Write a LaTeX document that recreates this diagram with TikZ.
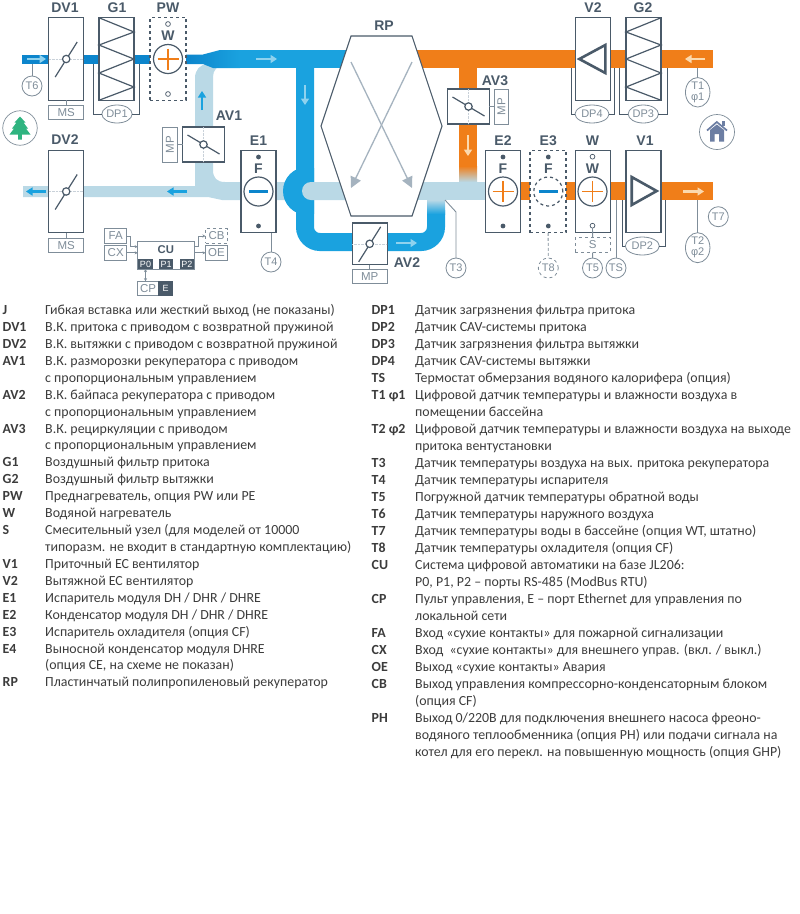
\documentclass[tikz,border=0pt]{standalone}
\usepackage{fontspec}
\setmainfont{Carlito}
\newfontfamily\schemefont{Liberation Sans}
\usetikzlibrary{arrows.meta, positioning, shapes.geometric, calc}
\definecolor{ductblue}{HTML}{1AA2DF}
\definecolor{ductdeep}{HTML}{0C85CC}
\definecolor{ductpale}{HTML}{BAD9E6}
\definecolor{ductorange}{HTML}{F07E19}
\definecolor{flowpale}{HTML}{8FD2EE}
\definecolor{floworange}{HTML}{FBD9AE}
\definecolor{unitdark}{HTML}{4A5A69}
\definecolor{unitgray}{HTML}{7F8D99}
\definecolor{crossgray}{HTML}{A5B3BF}
\definecolor{treegreen}{HTML}{2FB480}
\definecolor{housegray}{HTML}{6C7EA3}
\definecolor{legendink}{HTML}{3C3C3C}
\newcommand{\leftrow}[3]{
  \node[legkey] (lk#1) at (2.5,{314.6+16.92*#1}) {#2};
  \node[legtext] (lt#1) at (45,{314.6+16.92*#1}) {#3};
}
\newcommand{\leftmore}[2]{
  \node[legtext] (lt#1) at (45,{314.6+16.92*#1}) {#2};
}
\newcommand{\rightrow}[3]{
  \node[legkey] (rk#1) at (371.5,{314.6+17.0*#1}) {#2};
  \node[legtext] (rt#1) at (415,{314.6+17.0*#1}) {#3};
}
\newcommand{\rightmore}[2]{
  \node[legtext] (rt#1) at (415,{314.6+17.0*#1}) {#2};
}
\begin{document}
\begin{tikzpicture}[
    x=1pt, y=-1pt, >=Stealth,
    unitbox/.style={draw=unitdark, fill=white, line width=1.2pt, inner sep=0pt, outer sep=0pt, minimum width=35pt, minimum height=#1},
    unitbox/.default=82.5pt,
    dashbox/.style={unitbox=#1, dashed},
    dashbox/.default=83pt,
    smallbox/.style={draw=unitgray, fill=white, line width=0.8pt, inner sep=0pt, outer sep=0pt, minimum width=#1, minimum height=14.5pt, font=\schemefont\fontsize{11.5}{11.5}\selectfont, text=unitgray},
    smallbox/.default=35pt,
    unitlabel/.style={font=\schemefont\bfseries\fontsize{14}{14}\selectfont, text=unitdark, inner sep=0pt},
    coilmark/.style={font=\schemefont\bfseries\fontsize{14}{14}\selectfont, text=unitdark, inner sep=0pt},
    coil/.style={circle, draw=unitdark, fill=white, line width=1.2pt, minimum size=29pt, inner sep=0pt, outer sep=0pt},
    sensor/.style={circle, draw=unitgray, fill=white, line width=0.8pt, minimum size=20pt, inner sep=0pt, outer sep=0pt, font=\schemefont\fontsize{11}{11}\selectfont, text=unitgray},
    sensoval/.style={ellipse, draw=unitgray, fill=white, line width=0.8pt, minimum width=#1, minimum height=18pt, inner sep=0pt, outer sep=0pt, font=\schemefont\fontsize{11}{11}\selectfont, text=unitgray},
    sensoval/.default=30pt,
    humid/.style={ellipse, draw=unitgray, fill=white, line width=0.8pt, minimum width=24.5pt, minimum height=27pt, inner sep=0pt, outer sep=0pt, align=center, font=\schemefont\fontsize{11}{11}\selectfont, text=unitgray},
    ctrlbox/.style={draw=unitgray, fill=white, line width=0.9pt, inner sep=0pt, outer sep=0pt, minimum width=22pt, minimum height=14.5pt, font=\schemefont\fontsize{11.5}{11.5}\selectfont, text=unitgray},
    port/.style={fill=unitdark, text=white, inner sep=0pt, outer sep=0pt, minimum height=10pt, font=\schemefont\fontsize{9}{9}\selectfont},
    wire/.style={draw=unitgray, line width=0.9pt},
    ductwire/.style={draw=unitdark, line width=1pt},
    ctrlwire/.style={draw=unitgray, line width=0.7pt, -{Stealth[length=3pt,width=3pt]}},
    faint/.style={draw=crossgray!60, line width=0.4pt, densely dotted},
    flow/.style={-{Triangle[length=6.5pt,width=8pt]}, line width=2.8pt},
    legkey/.style={anchor=base west, inner sep=0pt, text=legendink, font=\bfseries\fontsize{13.9}{13.9}\selectfont},
    legtext/.style={anchor=base west, inner sep=0pt, text=legendink, font=\fontsize{13.9}{13.9}\selectfont},
    bladeup/.pic={\draw[unitdark, line width=1.2pt] (-11,18) -- (11,-17); \draw[unitdark, line width=1.2pt, fill=white] (0,0) circle (3.7pt);},
    bladedown/.pic={\draw[unitdark, line width=1.2pt] (-16,-9.5) -- (16,9.5); \draw[unitdark, line width=1.2pt, fill=white] (0,0) circle (3.7pt);},
    plusmark/.pic={\draw[ductorange, line width=1.5pt] (-10.5,0) -- (10.5,0) (0,-10.5) -- (0,10.5);},
    minusmark/.pic={\draw[ductdeep, line width=2.4pt] (-9.5,0) -- (9.5,0);}
  ]
  \useasboundingbox (0,0) rectangle (800,914);

  \fill[ductpale] (23,186) -- (195,186) .. controls (195,186) and (195,182) .. (195,178) -- (195,78)
    .. controls (195,70) and (200,64) .. (208,64) -- (225,64) .. controls (217,66) and (213,70) .. (213,77)
    -- (213,170) .. controls (213,178) and (217,182) .. (225,182) -- (300,182) -- (300,200) -- (222,200)
    -- (208,197) -- (23,197) -- cycle;

  \fill[ductdeep] (22,54.5) rectangle (186,64);
  \shade[left color=ductdeep, right color=ductblue] (186,54.5) -- (203,54.5) -- (220,50) -- (240,50) -- (240,68) -- (213,68) -- (203,64) -- (186,64) -- cycle;
  \fill[ductblue] (240,50) rectangle (350,68);
  \draw[ductblue, line width=18pt, rounded corners=15pt] (305,60) -- (305,242) -- (436,242) -- (436,210);
  \begin{scope}
    \clip (270,150) rectangle (314,230);
    \fill[ductblue] (307,191) circle (24pt);
  \end{scope}
  \shade[top color=ductpale, bottom color=ductblue] (427,200) rectangle (445,214);
  \fill[ductpale, rounded corners=9pt] (302,182) rectangle (400,200);
  \fill[ductpale] (380,182) rectangle (490,200);

  \fill[ductorange] (410,50) rectangle (713,68);
  \fill[ductorange] (459,68) rectangle (477,166);
  \shade[top color=ductorange, bottom color=ductpale] (459,166) rectangle (477,182);
  \fill[ductorange] (515,182) rectangle (713,200);

  \filldraw[draw=unitdark, fill=white, line width=1.1pt] (351,36) -- (412,36) -- (442,126) -- (412,216) -- (351,216) -- (321,126) -- cycle;
  \draw[crossgray, line width=1.3pt, -{Triangle[length=11pt,width=11pt]}] (351,62) -- (412,188);
  \draw[crossgray, line width=1.3pt, -{Triangle[length=11pt,width=11pt]}] (412,62) -- (351,188);
  \node[unitlabel] (rplab) at (384,26) {RP};

  \draw[flow, flowpale] (27,59) -- (46,59);
  \draw[flow, flowpale] (256,59) -- (277,59);
  \draw[flow, flowpale] (305,85) -- (305,105);
  \draw[flow, flowpale] (396,243) -- (417,243);
  \draw[flow, ductblue] (202,110) -- (202,91);
  \draw[flow, ductblue] (187,191.5) -- (167,191.5);
  \draw[flow, ductblue] (46,191.5) -- (26,191.5);
  \draw[flow, floworange] (468,135) -- (468,156);
  \draw[flow, floworange] (705,59) -- (685,59);
  \draw[flow, floworange] (683,191.5) -- (704,191.5);

  \node[unitbox] (dva) at (66.2,59) {};
  \node[unitlabel] (dvalab) at (65,8) {DV1};
  \draw[faint] (dva.west) -- (dva.east);
  \pic at (dva) {bladeup};
  \node[smallbox] (msa) at (66.2,112.5) {MS};
  \draw[wire] (dva) -- (msa);
  \node[sensor] (tsix) at (32,86) {T6};
  \coordinate (tsixtap) at (32,64);
  \draw[wire] (tsixtap) -- (tsix);

  \node[unitbox] (ga) at (116.5,59) {};
  \node[unitlabel] (galab) at (117,8) {G1};
  \draw[unitdark, line width=1.2pt] (ga.north west) -- (134,32) -- (99,45) -- (134,59) -- (99,73) -- (134,87) -- (ga.south west);
  \node[sensoval] (dpa) at (117,114) {DP1};
  \coordinate (dpal) at (93,64);
  \coordinate (dpar) at (139,64);
  \draw[ductwire] (dpa.west) -| (dpal);
  \draw[ductwire] (dpa.east) -| (dpar);

  \node[dashbox=82.5pt, minimum width=36pt] (pw) at (168,59) {};
  \node[unitlabel] (pwlab) at (168,8) {PW};
  \node[coilmark] (pwmark) at (168,36) {W};
  \node[coil] (pwcoil) at (168,59) {};
  \pic at (pwcoil) {plusmark};
  \draw[unitdark, line width=0.7pt, fill=white] (168,24) circle (2.4pt) (168,94) circle (2.4pt);

  \node[unitbox=35pt, minimum width=41.5pt] (ava) at (203.5,144.5) {};
  \node[unitlabel] (avalab) at (229,116) {AV1};
  \draw[faint] (ava.north) -- (ava.south);
  \pic at (ava) {bladedown};
  \node[smallbox, rotate=90, minimum width=35pt] (mpa) at (170,144.5) {MP};
  \draw[wire] (mpa) -- (ava);

  \node[unitbox] (dvb) at (66.2,191.5) {};
  \node[unitlabel] (dvblab) at (65,140) {DV2};
  \draw[faint] (dvb.west) -- (dvb.east);
  \pic at (dvb) {bladeup};
  \node[smallbox] (msb) at (66.2,245.5) {MS};
  \draw[wire] (dvb) -- (msb);

  \node[circle, draw=unitgray, line width=0.7pt, minimum size=34.5pt, inner sep=0pt] (forest) at (20,128) {};
  \fill[treegreen] (20,116.5) -- (25.5,122.5) -- (23.5,122.5) -- (28,128.5) -- (26,128.5) -- (30.5,134.5) -- (21.8,134.5) -- (21.8,139.5) -- (18.2,139.5) -- (18.2,134.5) -- (9.5,134.5) -- (14,128.5) -- (12,128.5) -- (16.5,122.5) -- (14.5,122.5) -- cycle;

  \node[unitbox] (ea) at (258.5,191.5) {};
  \node[unitlabel] (ealab) at (258.5,140.5) {E1};
  \node[coilmark] (eamark) at (258.5,169) {F};
  \node[coil] (eacoil) at (258.5,191.5) {};
  \pic at (eacoil) {minusmark};
  \fill[unitdark] (258.5,157) circle (2.4pt) (258.5,226) circle (2.4pt);
  \node[sensor] (tfour) at (271,262) {T4};
  \coordinate (tfourtap) at (271,233);
  \draw[wire] (tfourtap) -- (tfour);

  \node[ctrlbox] (fa) at (115.7,236) {FA};
  \node[ctrlbox] (cx) at (115.7,252.8) {CX};
  \node[draw=unitgray, fill=white, line width=0.9pt, minimum width=56.3pt, minimum height=28pt, inner sep=0pt, outer sep=0pt] (cu) at (165.8,255) {};
  \node[font=\schemefont\bfseries\fontsize{11.3}{11.3}\selectfont, text=unitdark, inner sep=0pt] (culab) at (165.8,249.5) {CU};
  \node[port, minimum width=15.6pt] (pzero) at (145.5,264) {P0};
  \node[port, minimum width=14.4pt] (pone) at (166.2,264) {P1};
  \node[port, minimum width=14.4pt] (ptwo) at (186.9,264) {P2};
  \node[ctrlbox, dashed] (cb) at (216.5,236) {CB};
  \node[ctrlbox] (oe) at (216.5,252.8) {OE};
  \coordinate (cuina) at (137.7,246.7);
  \coordinate (cuinb) at (137.7,252.8);
  \coordinate (cuouta) at (194.1,246.7);
  \coordinate (cuoutb) at (194.1,252.8);
  \draw[ctrlwire] (fa.east) -- ++(4,0) |- (cuina);
  \draw[ctrlwire] (cx) -- (cuinb);
  \draw[ctrlwire] (cuouta) -- ++(4.5,0) |- (cb.west);
  \draw[ctrlwire] (cuoutb) -- (oe);
  \node[ctrlbox, minimum width=20.6pt] (cp) at (148,288.5) {CP};
  \node[port, minimum width=14.4pt, minimum height=14.5pt, right=0pt of cp] (ethport) {E};
  \draw[draw=unitgray, line width=0.7pt, {Stealth[length=3pt,width=3pt]}-{Stealth[length=3pt,width=3pt]}] (pzero) -- (pzero |- cp.north);

  \node[unitbox=41.5pt] (avb) at (369.7,243.8) {};
  \node[unitlabel] (avblab) at (407,263) {AV2};
  \draw[faint] (avb.west) -- (avb.east);
  \pic at (avb) {bladeup};
  \node[smallbox] (mpb) at (369.7,276.3) {MP};
  \draw[wire] (avb) -- (mpb);
  \node[sensor] (tthree) at (456,268) {T3};
  \coordinate (tthreetap) at (445,200);
  \coordinate (tthreebend) at (456,212);
  \draw[wire] (tthreetap) -- (tthreebend) -- (tthree);

  \node[unitbox=35pt, minimum width=41.5pt] (avc) at (468.5,106.5) {};
  \node[unitlabel] (avclab) at (495,81) {AV3};
  \draw[faint] (avc.north) -- (avc.south);
  \pic at (avc) {bladedown};
  \node[smallbox, rotate=90, minimum width=35pt] (mpc) at (501.5,106.5) {MP};
  \draw[wire] (avc) -- (mpc);

  \node[unitbox] (eb) at (503,191.5) {};
  \node[unitlabel] (eblab) at (503,140.5) {E2};
  \node[coilmark] (ebmark) at (503,169) {F};
  \node[coil] (ebcoil) at (503,191.5) {};
  \pic at (ebcoil) {plusmark};
  \fill[unitdark] (503,157) circle (2.4pt) (503,226) circle (2.4pt);

  \node[dashbox=82.5pt, minimum width=36pt] (ec) at (548,191.5) {};
  \node[unitlabel] (eclab) at (548.3,140.5) {E3};
  \node[coilmark] (ecmark) at (548.3,169) {F};
  \node[coil, dashed] (eccoil) at (548.3,191.5) {};
  \pic at (eccoil) {minusmark};
  \fill[unitdark] (548.3,157) circle (2.4pt) (548.3,226) circle (2.4pt);
  \node[sensor, dashed] (teight) at (548.3,268) {T8};
  \draw[wire, densely dashed] (ec) -- (teight);

  \node[unitbox] (wa) at (592.8,191.5) {};
  \node[unitlabel] (walab) at (592.5,140.5) {W};
  \node[coilmark] (wamark) at (592.5,168.7) {W};
  \node[coil] (wacoil) at (592.5,191.5) {};
  \pic at (wacoil) {plusmark};
  \draw[unitdark, line width=0.7pt, fill=white] (592.5,156.7) circle (2.4pt) (592.5,225.7) circle (2.4pt);
  \node[smallbox, dashed] (sx) at (592.8,245) {S};
  \coordinate (sxtap) at (592.5,228.2);
  \draw[wire] (sxtap) -- (sx);
  \node[sensor] (tfive) at (592.5,268) {T5};
  \draw[wire] (sx) -- (tfive);
  \node[sensor] (ts) at (616,268) {TS};
  \coordinate (tstap) at (616,200);
  \draw[wire] (tstap) -- (ts);

  \node[unitbox] (vb) at (592.8,59) {};
  \node[unitlabel] (vblab) at (593,7.5) {V2};
  \draw[unitdark, line width=2.6pt, line join=miter] (605.3,45) -- (579.3,59) -- (605.3,73) -- cycle;
  \node[sensoval=34pt] (dpd) at (592,114) {DP4};
  \coordinate (dpdl) at (571.7,68);
  \coordinate (dpdr) at (614.3,68);
  \draw[ductwire] (dpd.west) -| (dpdl);
  \draw[ductwire] (dpd.east) -| (dpdr);

  \node[unitbox] (gb) at (643.5,59) {};
  \node[unitlabel] (gblab) at (643,7.5) {G2};
  \draw[unitdark, line width=1.2pt] (gb.north east) -- (626,32) -- (661,45) -- (626,59) -- (661,73) -- (626,87) -- (gb.south east);
  \node[sensoval] (dpc) at (643.3,114) {DP3};
  \coordinate (dpcl) at (619.3,68);
  \coordinate (dpcr) at (667,68);
  \draw[ductwire] (dpc.west) -| (dpcl);
  \draw[ductwire] (dpc.east) -| (dpcr);

  \node[humid] (tone) at (697.7,92.3) {T1\\φ1};
  \coordinate (tonetap) at (697.7,68);
  \draw[wire] (tonetap) -- (tone);

  \node[circle, draw=unitgray, line width=0.7pt, minimum size=35pt, inner sep=0pt] (pool) at (717,132) {};
  \fill[housegray] (710,130) -- (716.8,124.5) -- (724,130) -- (724,141.5) -- (719,141.5) -- (719,134) -- (714.5,134) -- (714.5,141.5) -- (710,141.5) -- cycle;
  \draw[housegray, line width=1.7pt] (707,130.5) -- (716.8,122) -- (727,130.5);
  \fill[housegray] (722,121) rectangle (724.5,126);

  \node[unitbox] (va) at (643.5,191.5) {};
  \node[unitlabel] (valab) at (645,140.5) {V1};
  \draw[unitdark, line width=2.6pt, line join=miter] (631.7,177) -- (656.7,191) -- (631.7,205) -- cycle;
  \node[sensoval=34pt] (dpb) at (642.3,246) {DP2};
  \coordinate (dpbl) at (622,200);
  \coordinate (dpbr) at (665,200);
  \draw[ductwire] (dpb.west) -| (dpbl);
  \draw[ductwire] (dpb.east) -| (dpbr);

  \node[sensor] (tseven) at (718.3,216.7) {T7};
  \node[humid, minimum height=30pt] (ttwo) at (697.7,247.7) {T2\\φ2};
  \coordinate (ttwotap) at (697.7,200);
  \draw[wire] (ttwotap) -- (ttwo);

  \leftrow{0}{J}{Гибкая вставка или жесткий выход (не показаны)}
  \leftrow{1}{DV1}{В.К. притока с приводом с возвратной пружиной}
  \leftrow{2}{DV2}{В.К. вытяжки с приводом с возвратной пружиной}
  \leftrow{3}{AV1}{В.К. разморозки рекуператора с приводом}
  \leftmore{4}{с пропорциональным управлением}
  \leftrow{5}{AV2}{В.К. байпаса рекуператора с приводом}
  \leftmore{6}{с пропорциональным управлением}
  \leftrow{7}{AV3}{В.К. рециркуляции с приводом}
  \leftmore{8}{с пропорциональным управлением}
  \leftrow{9}{G1}{Воздушный фильтр притока}
  \leftrow{10}{G2}{Воздушный фильтр вытяжки}
  \leftrow{11}{PW}{Преднагреватель, опция PW или PE}
  \leftrow{12}{W}{Водяной нагреватель}
  \leftrow{13}{S}{Смесительный узел (для моделей от 10000}
  \leftmore{14}{типоразм. не входит в стандартную комплектацию)}
  \leftrow{15}{V1}{Приточный ЕС вентилятор}
  \leftrow{16}{V2}{Вытяжной ЕС вентилятор}
  \leftrow{17}{E1}{Испаритель модуля DH / DHR / DHRE}
  \leftrow{18}{E2}{Конденсатор модуля DH / DHR / DHRE}
  \leftrow{19}{E3}{Испаритель охладителя (опция CF)}
  \leftrow{20}{E4}{Выносной конденсатор модуля DHRE}
  \leftmore{21}{(опция CE, на схеме не показан)}
  \leftrow{22}{RP}{Пластинчатый полипропиленовый рекуператор}

  \rightrow{0}{DP1}{Датчик загрязнения фильтра притока}
  \rightrow{1}{DP2}{Датчик CAV-системы притока}
  \rightrow{2}{DP3}{Датчик загрязнения фильтра вытяжки}
  \rightrow{3}{DP4}{Датчик CAV-системы вытяжки}
  \rightrow{4}{TS}{Термостат обмерзания водяного калорифера (опция)}
  \rightrow{5}{T1 φ1}{Цифровой датчик температуры и влажности воздуха в}
  \rightmore{6}{помещении бассейна}
  \rightrow{7}{T2 φ2}{Цифровой датчик температуры и влажности воздуха на выходе}
  \rightmore{8}{притока вентустановки}
  \rightrow{9}{T3}{Датчик температуры воздуха на вых. притока рекуператора}
  \rightrow{10}{T4}{Датчик температуры испарителя}
  \rightrow{11}{T5}{Погружной датчик температуры обратной воды}
  \rightrow{12}{T6}{Датчик температуры наружного воздуха}
  \rightrow{13}{T7}{Датчик температуры воды в бассейне (опция WT, штатно)}
  \rightrow{14}{T8}{Датчик температуры охладителя (опция CF)}
  \rightrow{15}{CU}{Система цифровой автоматики на базе JL206:}
  \rightmore{16}{P0, P1, P2 – порты RS-485 (ModBus RTU)}
  \rightrow{17}{CP}{Пульт управления, E – порт Ethernet для управления по}
  \rightmore{18}{локальной сети}
  \rightrow{19}{FA}{Вход «сухие контакты» для пожарной сигнализации}
  \rightrow{20}{CX}{Вход \ «сухие контакты» для внешнего управ. (вкл. / выкл.)}
  \rightrow{21}{OE}{Выход «сухие контакты» Авария}
  \rightrow{22}{CB}{Выход управления компрессорно-конденсаторным блоком}
  \rightmore{23}{(опция CF)}
  \rightrow{24}{PH}{Выход 0/220В для подключения внешнего насоса фреоно-}
  \rightmore{25}{водяного теплообменника (опция PH) или подачи сигнала на}
  \rightmore{26}{котел для его перекл. на повышенную мощность (опция GHP)}
\end{tikzpicture}
\end{document}
